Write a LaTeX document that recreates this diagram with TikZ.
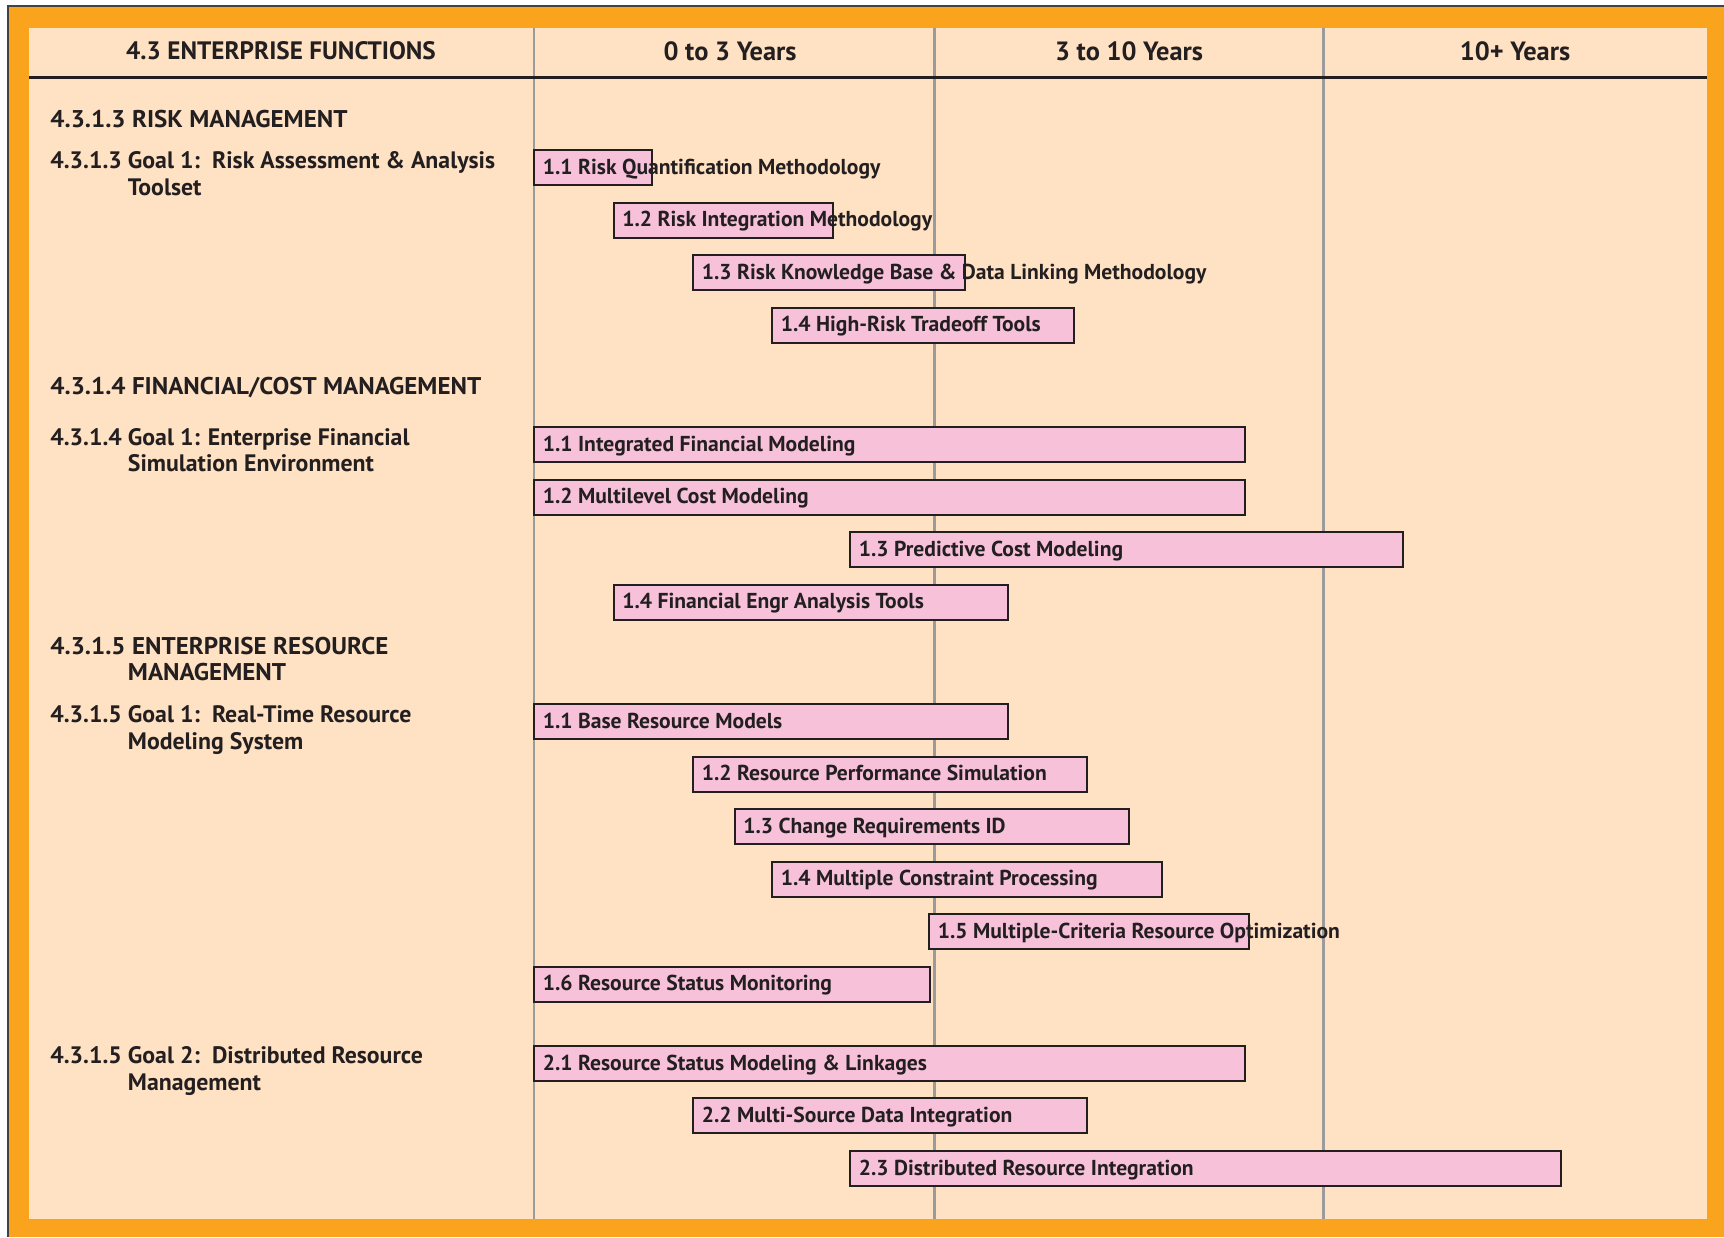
\documentclass[tikz,border=0pt]{standalone}
\usepackage{fontspec}
\setmainfont{PT Sans}
\newfontfamily\capsfont{PT Sans}[FakeStretch=1.035]
\definecolor{orangeb}{RGB}{249,164,28}
\definecolor{beige}{RGB}{255,225,195}
\definecolor{pinkb}{RGB}{247,193,218}
\definecolor{ink}{RGB}{35,31,32}
\definecolor{gridg}{RGB}{155,155,155}
\newcommand\gbar[6]{% name, x1, x2, ytop, text
  \node[barbox, minimum width={(#3-#2)*0.5pt}, anchor=north west] (#1) at (#2,#4) {};
  \node[bartext, anchor=base west] (#1t) at ([xshift=4.2pt,yshift=-12pt]#1.north west) {#5};
}
\newcommand\capsfnt{\capsfont\fontsize{12.1}{14}\selectfont\bfseries}
\begin{document}
\begin{tikzpicture}[x=0.5pt,y=-0.5pt,
  barbox/.style={draw=ink, line width=1pt, fill=pinkb, minimum height=17.5pt, inner sep=0pt, outer sep=0pt},
  bartext/.style={inner sep=0pt, text=ink, font=\fontsize{10.8}{12}\selectfont\bfseries},
  lab/.style={inner sep=0pt, text=ink, font=\fontsize{11.9}{14}\selectfont\bfseries},
  caplab/.style={inner sep=0pt, text=ink, font=\capsfnt},
  head/.style={inner sep=0pt, text=ink, font=\fontsize{12.6}{14}\selectfont\bfseries},
  yhead/.style={inner sep=0pt, text=ink, font=\fontsize{13.2}{15}\selectfont\bfseries},
  gridline/.style={draw=gridg, line width=1.2pt}]
\useasboundingbox (0,0) rectangle (1724,1237);
\fill[white] (0,0) rectangle (1724,1237);
\fill[orangeb] (8,6) rectangle (1724,1237);
\draw[ink!85, line width=0.7pt] (8,1237) -- (8,6) -- (1724,6);
\fill[beige] (29,28) rectangle (1707,1219);
\draw[gridline] (534,28) -- (534,1219);
\draw[gridline] (934.5,28) -- (934.5,1219);
\draw[gridline] (1323.5,28) -- (1323.5,1219);
\draw[ink, line width=1.5pt] (29,77.5) -- (1707,77.5);
% headers
\node[head, anchor=base] (h0) at (281,59.5) {4.3 ENTERPRISE FUNCTIONS};
\node[yhead, anchor=base] (h1) at (730,60) {0 to 3 Years};
\node[yhead, anchor=base] (h2) at (1129,60) {3 to 10 Years};
\node[yhead, anchor=base] (h3) at (1515,60) {10+ Years};
% left labels
\node[caplab, anchor=base west] (s1) at (50,127.7) {4.3.1.3 RISK MANAGEMENT};
\node[lab, anchor=base west] (g1a) at (50,168.5) {4.3.1.3 Goal 1:\ \ Risk Assessment \& Analysis};
\node[lab, anchor=base west] (g1b) at ([yshift=-13.3pt]g1a.base west) {\phantom{4.3.1.3 }Toolset};
\node[caplab, anchor=base west] (s2) at (50,394) {4.3.1.4 FINANCIAL/COST MANAGEMENT};
\node[lab, anchor=base west] (g2a) at (50,445) {4.3.1.4 Goal 1: Enterprise Financial};
\node[lab, anchor=base west] (g2b) at ([yshift=-13.3pt]g2a.base west) {\phantom{4.3.1.4 }Simulation Environment};
\node[caplab, anchor=base west] (s3) at (50,654) {4.3.1.5 ENTERPRISE RESOURCE};
\node[lab, anchor=base west] (s3b) at ([yshift=-13.3pt]s3.base west) {\phantom{4.3.1.5 }{\capsfnt MANAGEMENT}};
\node[lab, anchor=base west] (g3a) at (50,722.5) {4.3.1.5 Goal 1:\ \ Real-Time Resource};
\node[lab, anchor=base west] (g3b) at ([yshift=-13.3pt]g3a.base west) {\phantom{4.3.1.5 }Modeling System};
\node[lab, anchor=base west] (g4a) at (50,1063.5) {4.3.1.5 Goal 2:\ \ Distributed Resource};
\node[lab, anchor=base west] (g4b) at ([yshift=-13.3pt]g4a.base west) {\phantom{4.3.1.5 }Management};
% bars
\gbar{r1}{534}{652}{150}{1.1 Risk Quantification Methodology}{}
\gbar{r2}{613.5}{833}{202.5}{1.2 Risk Integration Methodology}{}
\gbar{r3}{693}{965}{255}{1.3 Risk Knowledge Base \& Data Linking Methodology}{}
\gbar{r4}{772}{1074}{307.5}{1.4 High-Risk Tradeoff Tools}{}
\gbar{f1}{534}{1245}{427}{1.1 Integrated Financial Modeling}{}
\gbar{f2}{534}{1245}{479.5}{1.2 Multilevel Cost Modeling}{}
\gbar{f3}{850}{1403}{532}{1.3 Predictive Cost Modeling}{}
\gbar{f4}{613.5}{1008}{584.5}{1.4 Financial Engr Analysis Tools}{}
\gbar{e1}{534}{1008}{704}{1.1 Base Resource Models}{}
\gbar{e2}{693}{1087}{756.5}{1.2 Resource Performance Simulation}{}
\gbar{e3}{734.5}{1129}{809}{1.3 Change Requirements ID}{}
\gbar{e4}{772}{1162}{861.5}{1.4 Multiple Constraint Processing}{}
\gbar{e5}{929}{1249}{914}{1.5 Multiple-Criteria Resource Optimization}{}
\gbar{e6}{534}{930}{966.5}{1.6 Resource Status Monitoring}{}
\gbar{d1}{534}{1245}{1046}{2.1 Resource Status Modeling \& Linkages}{}
\gbar{d2}{693}{1087}{1098}{2.2 Multi-Source Data Integration}{}
\gbar{d3}{850}{1561}{1151}{2.3 Distributed Resource Integration}{}
\end{tikzpicture}
\end{document}
